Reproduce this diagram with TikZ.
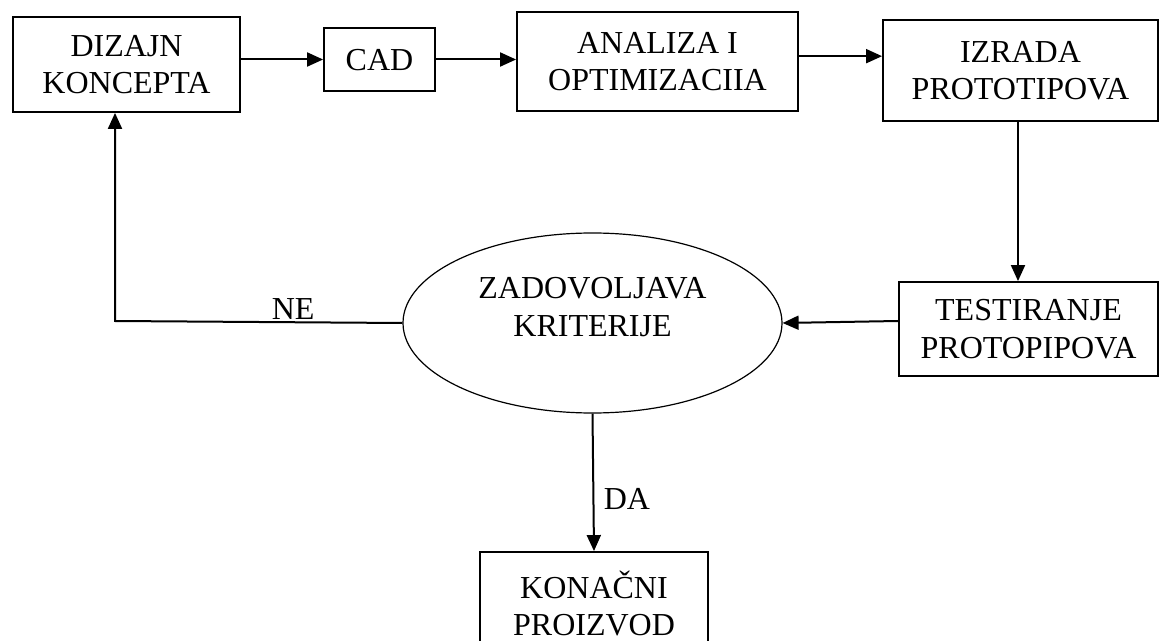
\documentclass[tikz,border=0pt]{standalone}
\usepackage{fontspec}
\setmainfont{Liberation Serif}
\usetikzlibrary{arrows.meta,shapes.geometric}
\begin{document}
\begin{tikzpicture}[x=0.75pt, y=-0.75pt,
	box/.style={draw, line width=1.4pt, align=center, inner sep=0pt, text depth=0pt, font=\fontsize{24}{28}\selectfont},
	txt/.style={align=center, inner sep=1pt, font=\fontsize{24}{28}\selectfont},
	flow/.style={line width=1.5pt, -{Triangle[length=12pt, width=10.5pt]}}]
	\clip (0,0) rectangle (1160,641);
	\fill[white] (0,0) rectangle (1160,641);
	\node[box, minimum width=170.25pt, minimum height=71.25pt] (dizajn) at (126.5,64.5) {DIZAJN\\KONCEPTA};
	\node[box, minimum width=83.25pt, minimum height=47.25pt] (cad) at (379.5,59.5) {CAD};
	\node[box, minimum width=210.75pt, minimum height=74.25pt] (analiza) at (657.5,61.5) {ANALIZA I\\OPTIMIZACIIA};
	\node[box, minimum width=206.25pt, minimum height=75.75pt] (izrada) at (1020.5,70.5) {IZRADA\\PROTOTIPOVA};
	\node[box, minimum width=194.25pt, minimum height=70.5pt] (test) at (1028.5,329) {TESTIRANJE\\PROTOPIPOVA};
	\node[draw, ellipse, line width=0.9pt, minimum width=284.25pt, minimum height=135pt, inner sep=0pt] (crit) at (592.5,323) {};
	\node[txt] (crittxt) at ([yshift=12pt]crit.center) {ZADOVOLJAVA\\KRITERIJE};
	\node[box, minimum width=171pt, minimum height=77.25pt] (konacni) at (594,603.5) {KONAČNI\\PROIZVOD};
	\coordinate (back) at (115,321);

	\draw[flow] (dizajn.east |- cad.west) -- (cad.west);
	\draw[flow] (cad.east) -- (cad.east -| analiza.west);
	\draw[flow] ([yshift=4pt]analiza.east) -- ([yshift=4pt]analiza.east -| izrada.west);
	\draw[flow] (izrada.south -| 1018,0) -- (test.north -| 1018,0);
	\draw[flow] ([yshift=6pt]test.west) -- (crit.east);
	\draw[flow] (crit.west) -- node[txt, above, pos=0.38] (ne) {NE} (back) -- (back |- dizajn.south);
	\draw[flow] (crit.south) -- node[txt, right, pos=0.62, xshift=6pt] (da) {DA} (konacni.north);
\end{tikzpicture}
\end{document}
